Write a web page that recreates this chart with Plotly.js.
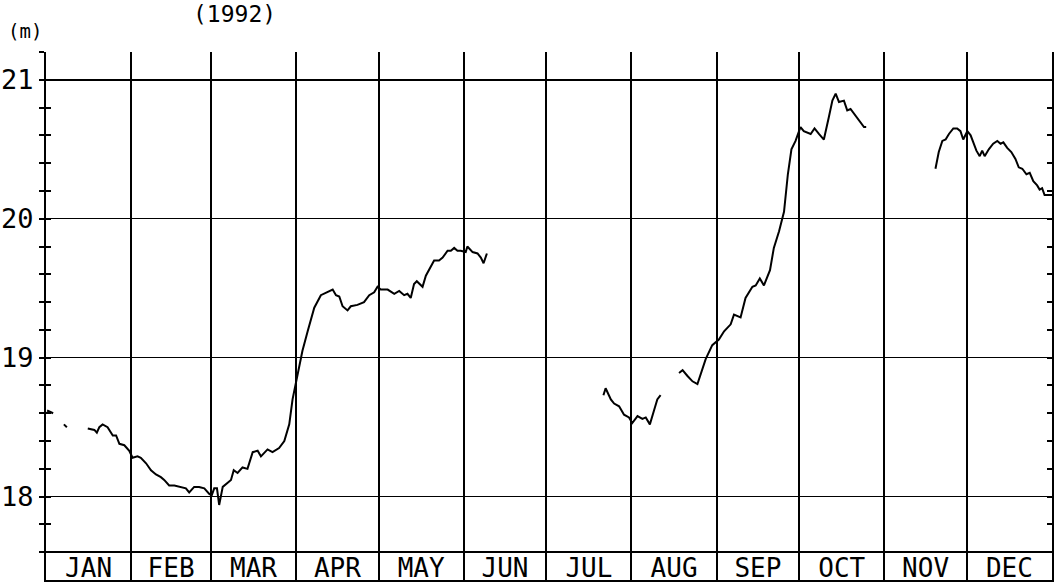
<!DOCTYPE html>
<html>
<head>
<meta charset="utf-8">
<script src="https://cdn.plot.ly/plotly-3.0.1.min.js"></script>
<style>
  html, body { margin: 0; padding: 0; background: #fff; }
  #chart { width: 1054px; height: 586px; }
</style>
</head>
<body>
<div id="chart"></div>
<script>
// Month labels and boundaries (day of year, 1992 is a leap year)
const MONTHS = ['JAN', 'FEB', 'MAR', 'APR', 'MAY', 'JUN', 'JUL', 'AUG', 'SEP', 'OCT', 'NOV', 'DEC'];
const MONTH_EDGES = [0, 31, 60, 91, 121, 152, 182, 213, 244, 274, 305, 335, 366];

// Y ticks (m)
const Y_LABELED = [17.6, 18, 19, 20, 21];
const Y_LABEL_TEXT = ['', '18', '19', '20', '21'];
const Y_MINOR = [17.6, 17.8, 18.2, 18.4, 18.6, 18.8, 19.2, 19.4, 19.6, 19.8,
                 20.2, 20.4, 20.6, 20.8, 21.2];

// Water level readings, split where the record has gaps
const dayJanA = [0.4, 2.6];
const lvlJanA = [18.62, 18.60];

const dayJanB = [6.5, 7.6];
const lvlJanB = [18.52, 18.50];

const dayJanJun = [15.2, 17.6, 18.5, 19.4, 20.6, 22.4, 24.3, 25.5, 26.7, 28.5, 30.3, 31.5, 33.3, 34.5,
  36.4, 38.2, 40.0, 41.8, 43.0, 44.8, 46.7, 48.5, 50.9, 52.1, 53.9, 55.7, 57.6, 59.4, 60.3, 61.2,
  62.2, 63.0, 64.3, 66.1, 67.3, 68.3, 69.7, 71.5, 73.3, 75.2, 77.0, 78.2, 80.6, 82.4, 84.8, 86.7,
  88.5, 89.7, 91.5, 93.3, 95.2, 97.6, 100.0, 102.4, 104.3, 105.5, 106.7, 107.9, 109.7, 110.9, 113.3,
  115.7, 117.6, 119.4, 120.6, 121.8, 124.3, 126.7, 128.5, 130.3, 131.5, 132.7, 133.9, 134.9, 137.0,
  138.2, 140.0, 141.2, 143.0, 144.3, 146.1, 147.3, 148.5, 149.7, 150.9, 152.7, 153.3, 155.2, 157.0,
  158.2, 159.2, 160.4];
const lvlJanJun = [18.49, 18.48, 18.46, 18.50, 18.52, 18.50, 18.44, 18.44, 18.38, 18.37, 18.33, 18.28, 18.29, 18.28,
  18.24, 18.19, 18.16, 18.14, 18.12, 18.08, 18.08, 18.07, 18.06, 18.03, 18.07, 18.07, 18.06, 18.02, 18.01, 18.06,
  18.06, 17.94, 18.07, 18.10, 18.12, 18.19, 18.17, 18.21, 18.20, 18.32, 18.33, 18.29, 18.34, 18.32, 18.35, 18.40,
  18.52, 18.70, 18.88, 19.05, 19.19, 19.36, 19.45, 19.47, 19.49, 19.45, 19.44, 19.37, 19.34, 19.37, 19.38,
  19.40, 19.45, 19.47, 19.51, 19.49, 19.49, 19.46, 19.48, 19.45, 19.46, 19.43, 19.53, 19.55, 19.51,
  19.59, 19.65, 19.70, 19.70, 19.72, 19.77, 19.77, 19.79, 19.77, 19.77, 19.76, 19.80, 19.76, 19.75,
  19.72, 19.68, 19.75];

const dayJulAug = [202.8, 203.6, 205.5, 206.7, 208.5, 210.3, 212.1, 213.3, 215.2, 217.0, 218.2, 219.7, 221.2, 222.4, 223.6];
const lvlJulAug = [18.73, 18.78, 18.70, 18.67, 18.65, 18.59, 18.57, 18.53, 18.58, 18.56, 18.57, 18.52, 18.62, 18.70, 18.73];

const daySepOct = [230.3, 231.6, 233.3, 235.2, 237.0, 238.2, 240.0, 242.4, 244.8, 246.7, 249.1, 250.3, 252.7,
  254.5, 257.0, 258.2, 259.7, 261.2, 263.4, 264.8, 266.7, 268.5, 269.9, 271.2, 272.7, 274.5, 275.7,
  278.2, 279.6, 281.2, 283.0, 284.8, 286.1, 287.3, 288.5, 290.3, 291.5, 292.7, 294.5, 296.4, 297.6, 298.4];
const lvlSepOct = [18.89, 18.91, 18.87, 18.83, 18.81, 18.88, 18.99, 19.09, 19.13, 19.19, 19.24, 19.31, 19.29,
  19.43, 19.51, 19.52, 19.57, 19.52, 19.63, 19.79, 19.91, 20.05, 20.32, 20.50, 20.56, 20.66, 20.63,
  20.61, 20.65, 20.61, 20.57, 20.73, 20.85, 20.90, 20.84, 20.85, 20.78, 20.79, 20.74, 20.69, 20.66, 20.66];

const dayNovDec = [323.6, 324.8, 326.1, 327.3, 328.5, 330.1, 331.5, 332.7, 333.7, 335.2, 336.4, 337.6, 338.5,
  339.7, 340.6, 341.5, 343.0, 344.6, 346.1, 347.3, 348.3, 349.7, 351.2, 352.7, 353.9, 355.2, 356.7,
  357.9, 359.2, 360.6, 361.5, 362.4, 363.3, 364.9, 366.0];
const lvlNovDec = [20.36, 20.48, 20.56, 20.57, 20.61, 20.65, 20.65, 20.63, 20.57, 20.63, 20.60, 20.54, 20.49,
  20.45, 20.49, 20.45, 20.50, 20.54, 20.56, 20.54, 20.55, 20.51, 20.48, 20.43, 20.37, 20.36, 20.32,
  20.33, 20.27, 20.24, 20.21, 20.22, 20.17, 20.17, 20.17];

const segments = [
  [dayJanA, lvlJanA], [dayJanB, lvlJanB], [dayJanJun, lvlJanJun],
  [dayJulAug, lvlJulAug], [daySepOct, lvlSepOct], [dayNovDec, lvlNovDec]
];

const monthMid = MONTHS.map((m, i) => (MONTH_EDGES[i] + MONTH_EDGES[i + 1]) / 2);

const INK = '#000';
const FONT = 'DejaVu Sans Mono, Liberation Mono, monospace';
const Y_RANGE = [17.4, 21.2];

// last segment goes on the overlay axis so that axis (inner ticks) gets drawn
const traces = segments.map((s, i) => ({
  x: s[0], y: s[1],
  yaxis: i === segments.length - 1 ? 'y2' : 'y',
  type: 'scatter', mode: 'lines',
  line: { color: INK, width: 2 },
  hoverinfo: 'skip', showlegend: false
}));

const layout = {
  width: 1054, height: 586,
  paper_bgcolor: '#fff', plot_bgcolor: 'rgba(0,0,0,0)',
  margin: { l: 46, r: 2, t: 52, b: 6 },
  font: { family: FONT, color: INK, size: 26 },
  showlegend: false,
  xaxis: {
    range: [0, 366], fixedrange: true,
    tickmode: 'array', tickvals: monthMid, ticktext: MONTHS,
    ticks: '', ticklabelposition: 'inside',
    tickfont: { size: 26, family: FONT, color: INK },
    showgrid: false, zeroline: false,
    showline: true, linecolor: INK, linewidth: 2, mirror: false,
    minor: { tickmode: 'array', tickvals: MONTH_EDGES, showgrid: true, gridcolor: INK, gridwidth: 2, ticks: '' }
  },
  yaxis: {
    range: Y_RANGE, fixedrange: true,
    tickmode: 'array', tickvals: Y_LABELED, ticktext: Y_LABEL_TEXT,
    ticks: 'outside', ticklen: 5, tickwidth: 2, tickcolor: INK,
    tickfont: { size: 27, family: FONT, color: INK },
    showgrid: true, gridcolor: INK, gridwidth: 1.5, zeroline: false,
    showline: true, linecolor: INK, linewidth: 2, mirror: true,
    minor: { tickmode: 'array', tickvals: Y_MINOR, ticks: 'outside', ticklen: 5, tickwidth: 2, tickcolor: INK, showgrid: false }
  },
  yaxis2: {
    overlaying: 'y', side: 'left', anchor: 'x',
    range: Y_RANGE, fixedrange: true,
    tickmode: 'array', tickvals: Y_LABELED.concat(Y_MINOR),
    ticks: 'inside', ticklen: 5, tickwidth: 2, tickcolor: INK,
    showticklabels: false, showgrid: false, zeroline: false,
    showline: true, linecolor: INK, linewidth: 2, mirror: 'ticks'
  },
  annotations: [
    { text: '(1992)', xref: 'paper', yref: 'paper', x: 0.187, y: 1.072,
      xanchor: 'center', yanchor: 'middle', showarrow: false,
      font: { size: 23, family: FONT, color: INK } },
    { text: '(m)', xref: 'paper', yref: 'paper', x: -0.021, y: 1.04,
      xanchor: 'center', yanchor: 'middle', showarrow: false,
      font: { size: 19, family: FONT, color: INK } }
  ]
};

Plotly.newPlot('chart', traces, layout, { staticPlot: true });
</script>
</body>
</html>
